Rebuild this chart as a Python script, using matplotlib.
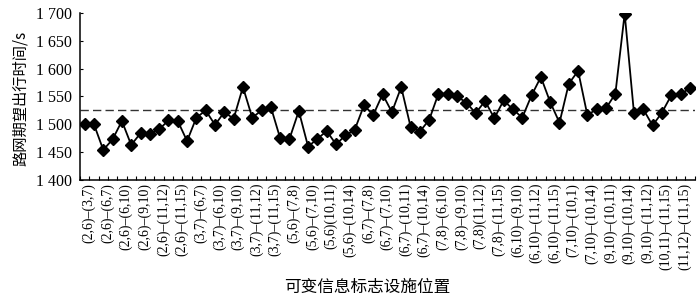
import matplotlib
matplotlib.use("Agg")
import matplotlib.pyplot as plt
import numpy as np

values = [1501, 1500, 1454, 1473, 1506, 1463, 1484, 1483, 1491, 1507,
          1506, 1470, 1512, 1525, 1499, 1522, 1510, 1567, 1512, 1525,
          1531, 1475, 1474, 1524, 1460, 1474, 1488, 1464, 1480, 1490,
          1534, 1517, 1554, 1522, 1567, 1496, 1487, 1508, 1555, 1555,
          1550, 1539, 1520, 1542, 1511, 1543, 1527, 1512, 1552, 1585,
          1540, 1503, 1573, 1596, 1516, 1528, 1529, 1555, 1699, 1520,
          1527, 1498, 1521, 1552, 1554, 1565]
mean_value = 1525

tick_labels = ["(2,6)–(3,7)", "(2,6)–(6,7)", "(2,6)–(6,10)", "(2,6)–(9,10)",
               "(2,6)–(11,12)", "(2,6)–(11,15)", "(3,7)–(6,7)", "(3,7)–(6,10)",
               "(3,7)–(9,10)", "(3,7)–(11,12)", "(3,7)–(11,15)", "(5,6)–(7,8)",
               "(5,6)–(7,10)", "(5,6)(10,11)", "(5,6)–(10,14)", "(6,7)–(7,8)",
               "(6,7)–(7,10)", "(6,7)–(10,11)", "(6,7)–(10,14)", "(7,8)–(6,10)",
               "(7,8)–(9,10)", "(7,8)(11,12)", "(7,8)–(11,15)", "(6,10)–(9,10)",
               "(6,10)–(11,12)", "(6,10)–(11,15)", "(7,10)–(10,1)", "(7,10)–(10,14)",
               "(9,10)–(10,11)", "(9,10)–(10,14)", "(9,10)–(11,12)", "(10,11)–(11,15)",
               "(11,12)–(11,15)"]
y_ticks = [1400, 1450, 1500, 1550, 1600, 1650, 1700]
y_tick_labels = ["1 400", "1 450", "1 500", "1 550", "1 600", "1 650", "1 700"]
xlabel = "可变信息标志设施位置"
ylabel = "路网期望出行时间/s"

serif = "Liberation Serif"
cjk = ["Noto Sans CJK SC", "DejaVu Sans"]

fig = plt.figure(figsize=(7, 2.99), dpi=100)
ax = fig.add_axes([80/700, 1 - 180/299, 614.5/700, 167/299])

x = np.arange(len(values))
ax.plot(x, values, color="black", lw=1.3, marker="D", markersize=6.3,
        markerfacecolor="black", markeredgecolor="black", zorder=3)
ax.axhline(mean_value, color="#333333", lw=1.0, dashes=(6, 3), zorder=2)

ax.set_xlim(-0.5, len(values) - 0.5)
ax.set_ylim(1400, 1700)

ax.spines["top"].set_visible(False)
ax.spines["right"].set_visible(False)
for s in ("left", "bottom"):
    ax.spines[s].set_linewidth(1.1)

ax.set_yticks(y_ticks)
ax.set_yticklabels(y_tick_labels, fontfamily=serif, fontsize=11.5)
ax.tick_params(axis="y", direction="in", length=2.5, width=0.8, pad=6)

label_pos = np.arange(len(tick_labels)) * 2 + 0.45
ax.set_xticks(label_pos)
ax.set_xticklabels(tick_labels, rotation=90, fontfamily=serif, fontsize=10,
                   va="top", ha="center")
ax.tick_params(axis="x", which="major", length=0, pad=2)
ax.set_xticks(np.arange(len(values) + 1) - 0.5, minor=True)
ax.tick_params(axis="x", which="minor", direction="in", length=3, width=0.8)

fig.text(367/700, (299 - 287)/299, xlabel, family=cjk, fontsize=12,
         ha="center", va="center")
fig.text(20/700, (299 - 98.5)/299, ylabel, family=cjk, fontsize=11,
         ha="center", va="center", rotation=90)

fig.savefig("out.png", dpi=100)
